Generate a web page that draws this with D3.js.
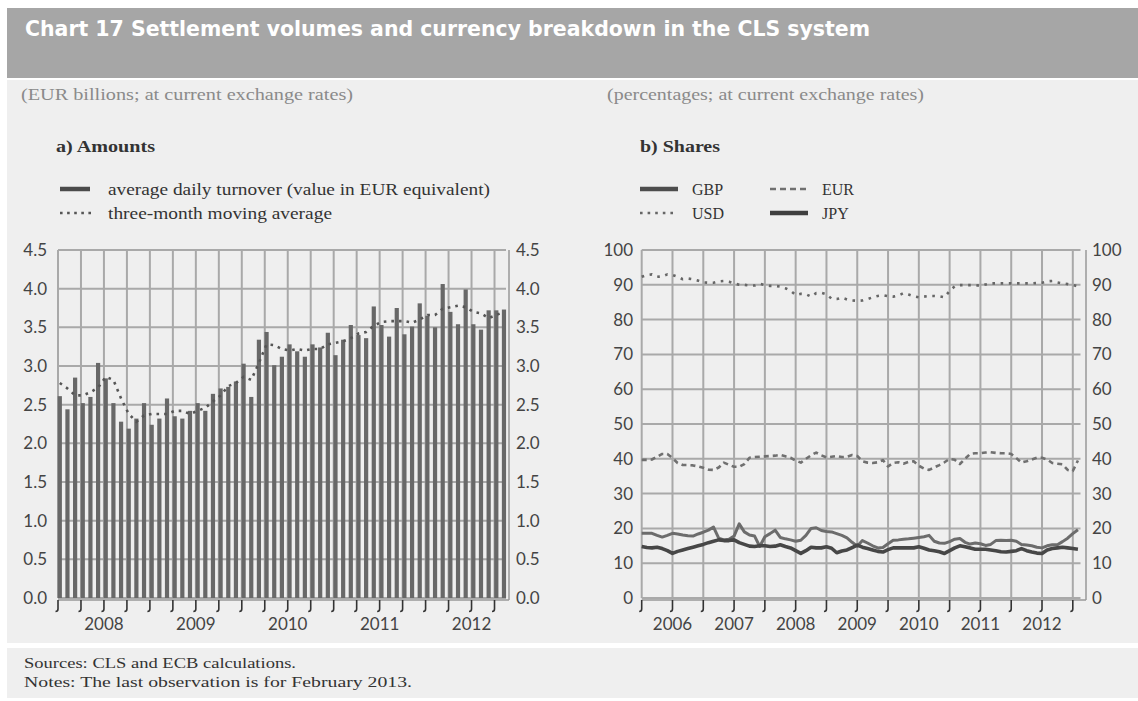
<!DOCTYPE html>
<html>
<head>
<meta charset="utf-8">
<script src="https://cdn.jsdelivr.net/npm/d3@7/dist/d3.min.js"></script>
<style>
  body { margin: 0; background: #fff; }
  svg { display: block; }
</style>
</head>
<body>
<div id="chart"></div>
<script>
// Panel a: CLS average daily turnover, EUR billions, monthly from Jan 2008
const amountYears = ['2008', '2009', '2010', '2011', '2012'];
const turnover = [
  2.61, 2.44, 2.85, 2.52, 2.60, 3.04, 2.84, 2.52, 2.28, 2.19, 2.32, 2.52,
  2.24, 2.32, 2.58, 2.35, 2.32, 2.42, 2.52, 2.42, 2.64, 2.71, 2.73, 2.80,
  3.03, 2.60, 3.34, 3.44, 3.01, 3.12, 3.28, 3.19, 3.12, 3.28, 3.24, 3.43,
  3.14, 3.34, 3.53, 3.40, 3.36, 3.77, 3.53, 3.38, 3.75, 3.41, 3.51, 3.81,
  3.65, 3.50, 4.06, 3.70, 3.54, 3.99, 3.54, 3.47, 3.72, 3.72, 3.73
];
const movingAvg = [
  2.78, 2.71, 2.62, 2.62, 2.66, 2.72, 2.86, 2.82, 2.58, 2.38, 2.28, 2.36,
  2.38, 2.38, 2.38, 2.42, 2.42, 2.38, 2.42, 2.46, 2.54, 2.62, 2.74, 2.78,
  2.86, 2.82, 3.04, 3.28, 3.27, 3.22, 3.20, 3.22, 3.20, 3.22, 3.22, 3.28,
  3.30, 3.32, 3.36, 3.42, 3.44, 3.52, 3.57, 3.58, 3.58, 3.58, 3.56, 3.60,
  3.66, 3.66, 3.74, 3.76, 3.78, 3.76, 3.70, 3.68, 3.62, 3.66, 3.70
];
const amountTicks = [0, 0.5, 1, 1.5, 2, 2.5, 3, 3.5, 4, 4.5];

// Panel b: currency shares in percent, monthly Jan 2006 - Feb 2013
const shareYears = ['2006', '2007', '2008', '2009', '2010', '2011', '2012'];
const usd = [
  92.3, 92.8, 93.0, 92.3, 92.4, 93.0, 92.8, 92.3, 91.6, 91.8, 91.6, 91.2,
  90.7, 90.6, 90.6, 91.0, 91.1, 90.9, 90.4, 90.0, 90.0, 89.8, 89.8, 90.3,
  89.9, 89.7, 89.7, 89.5, 89.0, 88.3, 87.1, 87.4, 87.3, 86.6, 87.6, 87.7,
  87.3, 86.0, 85.9, 86.3, 85.8, 85.5, 85.4, 85.5, 85.9, 86.4, 86.8, 87.0,
  86.7, 86.6, 86.9, 87.6, 87.2, 86.7, 86.4, 86.6, 86.8, 86.8, 86.7, 86.4,
  88.2, 89.6, 89.9, 89.9, 89.9, 89.9, 89.7, 90.1, 90.4, 90.4, 90.4, 90.4,
  90.4, 90.4, 90.4, 90.4, 90.4, 90.5, 90.6, 91.0, 91.1, 90.7, 90.4, 90.2,
  89.9, 89.6
];
const eur = [
  39.7, 39.7, 39.8, 40.6, 41.4, 41.4, 40.2, 38.8, 38.2, 38.2, 38.1, 37.8,
  37.4, 36.9, 36.8, 37.5, 38.9, 38.3, 37.7, 37.7, 38.5, 40.3, 40.5, 40.6,
  40.7, 40.8, 40.9, 41.1, 40.7, 40.3, 39.5, 38.9, 40.0, 41.0, 41.8, 41.0,
  40.4, 40.6, 40.8, 40.5, 40.6, 41.1, 40.8, 39.3, 38.9, 38.8, 39.0, 39.6,
  37.8, 38.8, 39.0, 38.6, 39.1, 39.3, 38.0, 37.2, 36.8, 37.5, 38.2, 39.0,
  40.0, 39.7, 38.5, 40.0, 41.4, 41.6, 41.6, 41.8, 41.9, 41.7, 41.6, 41.6,
  41.4, 40.2, 38.9, 39.3, 39.8, 40.3, 40.3, 39.8, 38.8, 38.6, 38.4, 36.8,
  36.5, 39.5
];
const gbp = [
  18.6, 18.6, 18.6, 18.0, 17.5, 18.0, 18.6, 18.4, 18.1, 17.9, 17.8, 18.4,
  18.9, 19.5, 20.4, 17.2, 16.7, 16.9, 17.8, 21.3, 19.0, 18.1, 17.8, 14.8,
  17.6, 18.5, 19.5, 17.4, 17.0, 16.7, 16.3, 16.6, 18.0, 20.0, 20.2, 19.4,
  19.1, 19.0, 18.5, 18.0, 17.3, 16.0, 14.9, 16.5, 15.8, 15.0, 14.4, 14.5,
  15.6, 16.6, 16.7, 16.9, 17.0, 17.2, 17.4, 17.6, 18.0, 16.3, 15.8, 15.7,
  16.2, 16.9, 17.1, 16.0, 15.5, 15.8, 15.6, 15.1, 15.4, 16.5, 16.6, 16.5,
  16.6, 16.3, 15.4, 15.2, 15.0, 14.6, 14.4, 15.0, 15.3, 15.3, 16.2, 17.2,
  18.5, 19.6
];
const jpy = [
  14.8, 14.5, 14.4, 14.6, 14.2, 13.6, 12.8, 13.4, 13.8, 14.2, 14.6, 15.0,
  15.4, 15.9, 16.3, 16.7, 16.5, 16.5, 16.7, 15.9, 15.4, 14.9, 14.8, 15.0,
  15.0, 14.8, 14.9, 15.3, 14.8, 14.4, 13.6, 12.8, 13.6, 14.6, 14.4, 14.4,
  14.7, 14.3, 13.0, 13.5, 13.8, 14.5, 15.2, 14.6, 14.2, 13.8, 13.4, 13.2,
  13.9, 14.4, 14.4, 14.4, 14.4, 14.4, 14.7, 14.3, 13.8, 13.6, 13.3, 12.8,
  13.6, 14.4, 15.0, 14.7, 14.4, 14.0, 14.0, 14.0, 13.8, 13.6, 13.3, 13.2,
  13.4, 13.6, 14.2, 13.6, 13.2, 12.9, 12.8, 13.8, 14.2, 14.4, 14.6, 14.4,
  14.2, 14.0
];
const shareTicks = [0, 10, 20, 30, 40, 50, 60, 70, 80, 90, 100];

const W = 1138, H = 701;
const PANEL = '#efefef';
const GRID = '#a9a9a9';
const AXIS_TXT = '#444';
const SERIF = '"Liberation Serif", "Times New Roman", serif';
const SANS = 'Lato, "Open Sans", sans-serif';

const svg = d3.select('#chart').append('svg')
  .attr('width', W)
  .attr('height', H);

// Fons: banda de títol, panell principal i panell de notes
svg.append('rect').attr('x', 7).attr('y', 8).attr('width', W - 7).attr('height', 70).attr('fill', '#a6a6a6');
svg.append('rect').attr('x', 7).attr('y', 80).attr('width', W - 7).attr('height', 563).attr('fill', PANEL);
svg.append('rect').attr('x', 7).attr('y', 648).attr('width', W - 7).attr('height', 50).attr('fill', PANEL);

svg.append('text')
  .attr('x', 25).attr('y', 36)
  .attr('fill', '#fff')
  .style('font-family', '"DejaVu Sans Condensed", "DejaVu Sans", sans-serif')
  .style('font-weight', 'bold')
  .style('font-size', '21px')
  .attr('textLength', 845)
  .attr('lengthAdjust', 'spacingAndGlyphs')
  .text('Chart 17 Settlement volumes and currency breakdown in the CLS system');

function serifText(x, y, txt, opts) {
  const t = svg.append('text')
    .attr('x', x).attr('y', y)
    .attr('fill', opts.color || '#333')
    .style('font-family', SERIF)
    .style('font-size', (opts.size || 16) + 'px')
    .style('font-weight', opts.bold ? 'bold' : 'normal')
    .text(txt);
  if (opts.len) t.attr('textLength', opts.len).attr('lengthAdjust', 'spacingAndGlyphs');
  return t;
}

serifText(21, 100, '(EUR billions; at current exchange rates)', { color: '#8a8a8a', size: 16, len: 332 });
serifText(607, 100, '(percentages; at current exchange rates)', { color: '#8a8a8a', size: 16, len: 317 });
serifText(56, 152, 'a) Amounts', { bold: true, size: 16, len: 99 });
serifText(640, 152, 'b) Shares', { bold: true, size: 16, len: 80 });

serifText(24, 668, 'Sources: CLS and ECB calculations.', { size: 15.5, len: 272 });
serifText(24, 687, 'Notes: The last observation is for February 2013.', { size: 15.5, len: 388 });

// Funció per dibuixar la graella i els eixos d'un panell
function drawFrame(x, y, ticks, gridIdx, fmt, rightAxisX, labelRightX, labelLeftEnd) {
  const g = svg.append('g');
  const [x0, x1] = x.range();
  g.selectAll('.hgrid').data(ticks).enter().append('line')
    .attr('x1', x0).attr('x2', x1)
    .attr('y1', d => y(d)).attr('y2', d => y(d))
    .attr('stroke', GRID).attr('stroke-width', 2);
  g.selectAll('.vgrid').data(gridIdx).enter().append('line')
    .attr('x1', d => x(d)).attr('x2', d => x(d))
    .attr('y1', y(ticks[ticks.length - 1])).attr('y2', y(0))
    .attr('stroke', GRID).attr('stroke-width', 2);
  // eix dret i eix inferior
  g.append('line')
    .attr('x1', rightAxisX).attr('x2', rightAxisX)
    .attr('y1', y(ticks[ticks.length - 1])).attr('y2', y(0) + 2)
    .attr('stroke', '#999').attr('stroke-width', 1.5);
  g.append('line')
    .attr('x1', x0).attr('x2', rightAxisX)
    .attr('y1', y(0) + 2).attr('y2', y(0) + 2)
    .attr('stroke', '#999').attr('stroke-width', 1.5);
  // marques en forma de J
  g.selectAll('.tick').data(gridIdx).enter().append('path')
    .attr('d', d => `M${x(d)},${y(0) + 2} V${y(0) + 11} q0,2.5 -2.5,2.5`)
    .attr('fill', 'none').attr('stroke', '#333').attr('stroke-width', 1.6);
  // etiquetes de l'eix Y a banda i banda
  g.selectAll('.ylabL').data(ticks).enter().append('text')
    .attr('x', labelLeftEnd).attr('y', d => y(d) + 6)
    .attr('text-anchor', 'end')
    .attr('fill', AXIS_TXT)
    .style('font-family', SANS).style('font-size', '17px')
    .text(fmt);
  g.selectAll('.ylabR').data(ticks).enter().append('text')
    .attr('x', labelRightX).attr('y', d => y(d) + 6)
    .attr('fill', AXIS_TXT)
    .style('font-family', SANS).style('font-size', '17px')
    .text(fmt);
  return g;
}

function yearLabels(x, years, firstMid) {
  svg.append('g').selectAll('text').data(years).enter().append('text')
    .attr('x', (d, i) => x(firstMid + 12 * i))
    .attr('y', 630)
    .attr('text-anchor', 'middle')
    .attr('fill', AXIS_TXT)
    .style('font-family', SANS).style('font-size', '17px')
    .text(d => d);
}

// ---------- Panell a) ----------
const xA = d3.scaleLinear().domain([0, 58.5]).range([58, 506]);
const yA = d3.scaleLinear().domain([0, 4.5]).range([598, 250]);
const quarterIdx = d3.range(0, 58, 3);

drawFrame(xA, yA, amountTicks, quarterIdx, d => d3.format('.1f')(d), 509, 516, 47);
yearLabels(xA, amountYears, 6);

svg.append('g').selectAll('rect').data(turnover).enter().append('rect')
  .attr('x', (d, i) => xA(i) - 0.3)
  .attr('y', d => yA(d))
  .attr('width', 4.2)
  .attr('height', d => yA(0) - yA(d))
  .attr('fill', '#686868');

const lineA = d3.line().x((d, i) => xA(i) + 1.8).y(d => yA(d));
svg.append('path').datum(movingAvg)
  .attr('d', lineA)
  .attr('fill', 'none')
  .attr('stroke', '#555')
  .attr('stroke-width', 2.6)
  .attr('stroke-dasharray', '2.6,5');

// llegenda a)
svg.append('line').attr('x1', 60).attr('x2', 90).attr('y1', 189).attr('y2', 189)
  .attr('stroke', '#4a4a4a').attr('stroke-width', 4.5);
svg.append('line').attr('x1', 60).attr('x2', 92).attr('y1', 213).attr('y2', 213)
  .attr('stroke', '#555').attr('stroke-width', 2.6).attr('stroke-dasharray', '2.6,4.5');
serifText(108, 195, 'average daily turnover (value in EUR equivalent)', { size: 16, len: 382 });
serifText(108, 219, 'three-month moving average', { size: 16, len: 224 });

// ---------- Panell b) ----------
const xB = d3.scaleLinear().domain([0, 85.5]).range([641.7, 1080.5]);
const yB = d3.scaleLinear().domain([0, 100]).range([598, 250]);
const halfYearIdx = d3.range(0, 85, 6);

drawFrame(xB, yB, shareTicks, halfYearIdx, d => d, 1086, 1092, 633);
yearLabels(xB, shareYears, 6);

const lineB = d3.line().x((d, i) => xB(i)).y(d => yB(d));
const shareSeries = [
  { name: 'GBP', values: gbp, color: '#6c6c6c', width: 3, dash: null },
  { name: 'JPY', values: jpy, color: '#474747', width: 3.6, dash: null },
  { name: 'EUR', values: eur, color: '#707070', width: 2.6, dash: '5,4' },
  { name: 'USD', values: usd, color: '#666', width: 2.6, dash: '2.6,5.6' }
];
svg.append('g').selectAll('path').data(shareSeries).enter().append('path')
  .attr('d', d => lineB(d.values))
  .attr('fill', 'none')
  .attr('stroke', d => d.color)
  .attr('stroke-width', d => d.width)
  .attr('stroke-linejoin', 'round')
  .attr('stroke-dasharray', d => d.dash);

// llegenda b)
const legendB = [
  { name: 'GBP', x: 640, y: 189, color: '#4d4d4d', width: 4.5, dash: null },
  { name: 'EUR', x: 770, y: 189, color: '#707070', width: 2.6, dash: '6,4' },
  { name: 'USD', x: 640, y: 213, color: '#666', width: 2.6, dash: '2.6,5' },
  { name: 'JPY', x: 770, y: 213, color: '#3f3f3f', width: 4.5, dash: null }
];
legendB.forEach(d => {
  svg.append('line')
    .attr('x1', d.x).attr('x2', d.x + 38).attr('y1', d.y).attr('y2', d.y)
    .attr('stroke', d.color).attr('stroke-width', d.width)
    .attr('stroke-dasharray', d.dash);
  serifText(d.x + 52, d.y + 6, d.name, { size: 16 });
});
</script>
</body>
</html>
